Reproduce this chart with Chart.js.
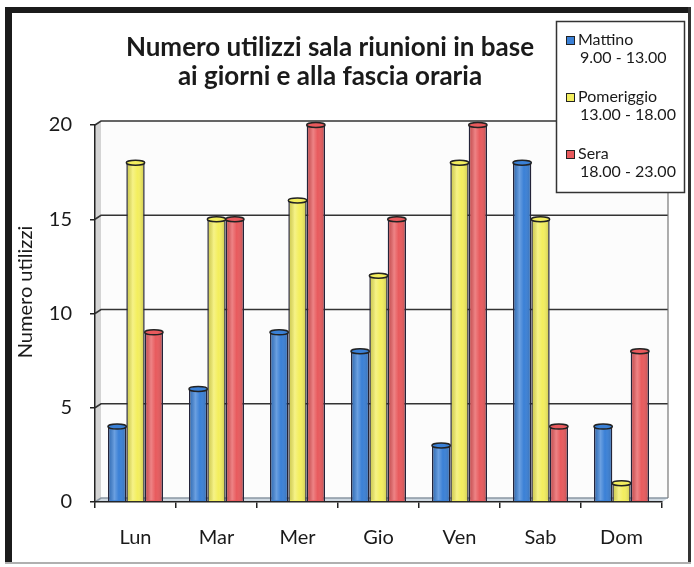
<!DOCTYPE html>
<html lang="it">
<head>
<meta charset="UTF-8">
<title>Numero utilizzi sala riunioni</title>
<script src="https://cdn.jsdelivr.net/npm/chart.js"></script>
<style>
  html, body { margin: 0; padding: 0; background: #fff; }
  #wrap { position: relative; width: 694px; height: 567px; }
</style>
</head>
<body>
<div id="wrap"><canvas id="myChart" width="694" height="567"></canvas></div>
<script>
// dati
var giorni = ['Lun', 'Mar', 'Mer', 'Gio', 'Ven', 'Sab', 'Dom'];
var mattino = [4, 6, 9, 8, 3, 18, 4];
var pomeriggio = [18, 15, 16, 12, 18, 15, 1];
var sera = [9, 15, 20, 15, 20, 4, 8];
var nomiSerie = [['Mattino', '9.00 - 13.00'], ['Pomeriggio', '13.00 - 18.00'], ['Sera', '18.00 - 23.00']];
var coloriSerie = ['#3a80d6', '#f3ee5e', '#e85a5d'];
var titolo = ['Numero utilizzi sala riunioni in base', 'ai giorni e alla fascia oraria'];
var titoloAsseY = 'Numero utilizzi';
var yTicks = [0, 5, 10, 15, 20];

var FONT = 'Lato, "Open Sans", sans-serif';
var DX = 6, DY = -4; // profondita' della parete di fondo

var decor = {
    id: 'decor',
    beforeDraw: function (chart) {
        var ctx = chart.ctx, a = chart.chartArea, ys = chart.scales.y;
        ctx.save();
        ctx.fillStyle = '#ffffff';
        ctx.fillRect(0, 0, chart.width, chart.height);

        // cornice esterna
        ctx.fillStyle = '#1b1b1b';
        ctx.fillRect(5, 7, 7, 557);
        ctx.fillRect(5, 7, 686, 6);
        ctx.fillStyle = '#333';
        ctx.fillRect(688, 7, 3, 557);
        ctx.fillStyle = '#b0b0b0';
        ctx.fillRect(5, 562, 686, 2);

        // parete di fondo
        ctx.fillStyle = '#fcfcfc';
        ctx.fillRect(a.left + DX, a.top + DY, a.right - a.left, a.bottom - a.top);
        // parete sinistra
        ctx.fillStyle = '#d4d4d4';
        ctx.beginPath();
        ctx.moveTo(a.left, a.top);
        ctx.lineTo(a.left + DX, a.top + DY);
        ctx.lineTo(a.left + DX, a.bottom + DY);
        ctx.lineTo(a.left, a.bottom);
        ctx.closePath();
        ctx.fill();
        // pavimento
        ctx.fillStyle = '#cfd9e2';
        ctx.beginPath();
        ctx.moveTo(a.left, a.bottom);
        ctx.lineTo(a.left + DX, a.bottom + DY);
        ctx.lineTo(a.right + DX, a.bottom + DY);
        ctx.lineTo(a.right, a.bottom);
        ctx.closePath();
        ctx.fill();

        // griglia sulla parete di fondo
        ctx.lineWidth = 1.6;
        yTicks.forEach(function (v) {
            var y = ys.getPixelForValue(v);
            ctx.strokeStyle = v === 0 ? '#8a96a2' : '#333';
            ctx.beginPath();
            ctx.moveTo(a.left, y);
            ctx.lineTo(a.left + DX, y + DY);
            ctx.lineTo(a.right + DX, y + DY);
            ctx.stroke();
        });
        ctx.strokeStyle = '#777';
        ctx.lineWidth = 1.2;
        ctx.beginPath();
        ctx.moveTo(a.right + DX, a.top + DY);
        ctx.lineTo(a.right + DX, a.bottom + DY);
        ctx.stroke();
        ctx.restore();
    },
    afterDatasetsDraw: function (chart) {
        var ctx = chart.ctx;
        ctx.save();
        chart.data.datasets.forEach(function (ds, i) {
            chart.getDatasetMeta(i).data.forEach(function (bar) {
                var w = bar.width, x0 = bar.x - w / 2;
                var g = ctx.createLinearGradient(x0, 0, x0 + w, 0);
                g.addColorStop(0, 'rgba(0,0,0,0.15)');
                g.addColorStop(0.35, 'rgba(255,255,255,0.25)');
                g.addColorStop(0.6, 'rgba(255,255,255,0)');
                g.addColorStop(1, 'rgba(0,0,0,0.2)');
                ctx.fillStyle = g;
                ctx.fillRect(x0 + 1, bar.y, w - 2, bar.base - bar.y - 1);
                ctx.beginPath();
                ctx.ellipse(bar.x, bar.y, w / 2, 2.5, 0, 0, 2 * Math.PI);
                ctx.fillStyle = ds.backgroundColor;
                ctx.fill();
                ctx.strokeStyle = '#222';
                ctx.lineWidth = 1.5;
                ctx.stroke();
            });
        });
        ctx.restore();
    },
    afterDraw: function (chart) {
        var ctx = chart.ctx;
        ctx.save();
        ctx.fillStyle = '#1a1a1a';

        // titolo
        ctx.font = 'bold 26px ' + FONT;
        ctx.textAlign = 'center';
        ctx.textBaseline = 'alphabetic';
        ctx.fillText(titolo[0], 330, 56);
        ctx.fillText(titolo[1], 330, 85);

        // titolo asse Y
        ctx.save();
        ctx.translate(32, 292);
        ctx.rotate(-Math.PI / 2);
        ctx.font = '20px ' + FONT;
        ctx.fillText(titoloAsseY, 0, 0);
        ctx.restore();

        // legenda
        ctx.fillStyle = '#ffffff';
        ctx.fillRect(556, 21, 128, 171);
        ctx.strokeStyle = '#333';
        ctx.lineWidth = 1.5;
        ctx.strokeRect(556.5, 21.5, 128, 171);
        ctx.textAlign = 'left';
        ctx.font = '16px ' + FONT;
        var base = [45, 102, 159];
        nomiSerie.forEach(function (n, i) {
            ctx.fillStyle = coloriSerie[i];
            ctx.fillRect(566, base[i] - 9, 9, 9);
            ctx.strokeStyle = '#222';
            ctx.lineWidth = 1;
            ctx.strokeRect(566.5, base[i] - 8.5, 8, 8);
            ctx.fillStyle = '#1a1a1a';
            ctx.fillText(n[0], 578, base[i]);
            ctx.fillText(n[1], 580, base[i] + 18);
        });
        ctx.restore();
    }
};

var ctx = document.getElementById('myChart').getContext('2d');
var myChart = new Chart(ctx, {
    type: 'bar',
    data: {
        labels: giorni,
        datasets: [mattino, pomeriggio, sera].map(function (d, i) {
            return {
                label: nomiSerie[i].join(' '),
                data: d,
                backgroundColor: coloriSerie[i],
                borderColor: '#24243a',
                borderWidth: 1.5,
                categoryPercentage: 0.68,
                barPercentage: 1
            };
        })
    },
    options: {
        responsive: false,
        animation: false,
        layout: { padding: { top: 125, right: 32, bottom: 10, left: 0 } },
        plugins: {
            legend: { display: false },
            title: { display: false },
            tooltip: { enabled: false }
        },
        scales: {
            x: {
                grid: { drawOnChartArea: false, drawTicks: true, tickLength: 6, color: '#222', lineWidth: 1.5, offset: true },
                border: { color: '#222', width: 1.5 },
                ticks: { font: { family: FONT, size: 20 }, color: '#1a1a1a', padding: 18 },
                afterFit: function (s) { s.height = 55; }
            },
            y: {
                min: 0,
                max: 20,
                ticks: { stepSize: 5, font: { family: FONT, size: 20 }, color: '#1a1a1a', padding: 18 },
                grid: { drawOnChartArea: false, drawTicks: true, tickLength: 5, color: '#222', lineWidth: 1.5 },
                border: { color: '#222', width: 1.5 },
                afterFit: function (s) { s.width = 95; }
            }
        }
    },
    plugins: [decor]
});
</script>
</body>
</html>
